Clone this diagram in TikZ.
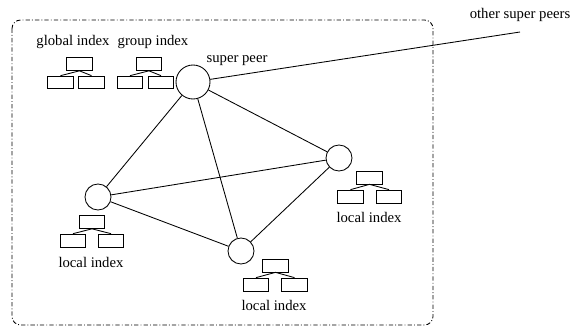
\documentclass[tikz,border=0pt]{standalone}
\usepackage{fontspec}
\setmainfont{Liberation Serif}

\begin{document}
\begin{tikzpicture}[x=0.7pt, y=-0.7pt, line width=0.6pt,%
	peer/.style={circle, draw, inner sep=0pt, minimum size=18.2pt},
	superpeer/.style={peer, minimum size=23.8pt},
	idx/.style={rectangle, draw, inner sep=0pt, minimum width=17.8pt, minimum height=9pt},
	every label/.style={font=\fontsize{10.3}{12}\selectfont},
	lbl/.style={font=\fontsize{10.3}{12}\selectfont, inner sep=0pt}]
	\useasboundingbox (0,0) rectangle (573,328);

	% group border
	\draw[rounded corners=6pt, dash pattern=on 3pt off 1.5pt on 0.6pt off 1.5pt] (12,20) rectangle (433,325);

	% peers
	\node[superpeer] (sp) at (193,82) {};
	\node[peer] (pl) at (98,197) {};
	\node[peer] (pb) at (241,251) {};
	\node[peer] (pr) at (339,158) {};
	\coordinate (other) at (520,32);

	\node[lbl] (splbl) at (237,61) {super peer};
	\node[lbl] (otherlbl) at (520,15) {other super peers};

	\draw (sp) -- (pl);
	\draw (sp) -- (pb);
	\draw (sp) -- (pr);
	\draw (sp) -- (other);
	\draw (pl) -- (pr);
	\draw (pl) -- (pb);
	\draw (pb) -- (pr);

	% global index
	\node[lbl] (glbl) at (73,42) {global index};
	\node[idx] (g0) at (79.5,64) {};
	\node[idx] (g1) at (60.5,82.5) {};
	\node[idx] (g2) at (91.5,82.5) {};

	% group index
	\node[lbl] (rlbl) at (153,42) {group index};
	\node[idx] (r0) at (149,64) {};
	\node[idx] (r1) at (130,82.5) {};
	\node[idx] (r2) at (161,82.5) {};

	% local indexes
	\node[idx] (a0) at (92,222) {};
	\node[idx] (a1) at (73,240.5) {};
	\node[idx] (a2) at (111,240.5) {};
	\node[lbl] (albl) at (91,262) {local index};

	\node[idx] (b0) at (275.5,265.5) {};
	\node[idx] (b1) at (256,284.5) {};
	\node[idx] (b2) at (294.5,284.5) {};
	\node[lbl] (blbl) at (274,305) {local index};

	\node[idx] (c0) at (369.5,177.5) {};
	\node[idx] (c1) at (350.5,196.5) {};
	\node[idx] (c2) at (389,196.5) {};
	\node[lbl] (clbl) at (369,217) {local index};

	\foreach \t in {g,r,a,b,c}
		\draw (\t0.south) -- (\t1.north) (\t0.south) -- (\t2.north);
\end{tikzpicture}
\end{document}
